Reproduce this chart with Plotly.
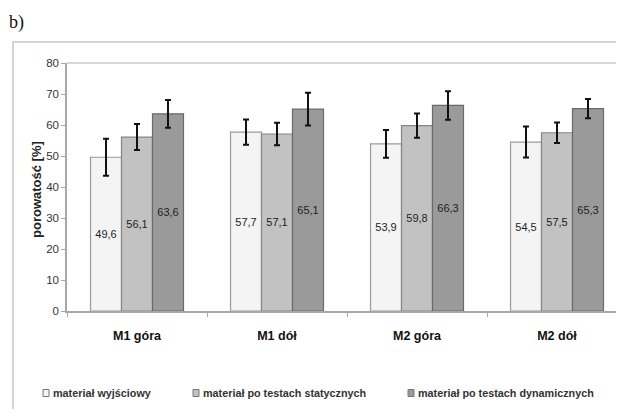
import plotly.graph_objects as go

categories = ["M1 góra", "M1 dół", "M2 góra", "M2 dół"]
series_names = ["materiał wyjściowy", "materiał po testach statycznych", "materiał po testach dynamicznych"]
val_wyjsciowy = [49.6, 57.7, 53.9, 54.5]
val_statyczne = [56.1, 57.1, 59.8, 57.5]
val_dynamiczne = [63.6, 65.1, 66.3, 65.3]
err_wyjsciowy = [6.0, 4.1, 4.5, 5.0]
err_statyczne = [4.2, 3.6, 3.9, 3.3]
err_dynamiczne = [4.5, 5.3, 4.6, 3.1]
y_ticks = [0, 10, 20, 30, 40, 50, 60, 70, 80]

fills = ["#f4f4f4", "#c2c2c2", "#9a9a9a"]
edges = ["#9a9a9a", "#858585", "#6a6a6a"]

# page has an 8px body margin; work in figure pixels = reference pixels - 8
OFF = 8
FW, FH = 624 - 2 * OFF, 417 - 2 * OFF
L, T, R, B = 67 - OFF, 63 - OFF, FW, 311 - OFF
W, H = R - L, B - T
CAT_W = 140.0  # pixel width of one category in the reference
def pxx(x): return (x - OFF - L) / W
def pyy(y): return (B - (y - OFF)) / H

fig = go.Figure()
for name, vals, errs, fc, ec in zip(series_names,
                                    [val_wyjsciowy, val_statyczne, val_dynamiczne],
                                    [err_wyjsciowy, err_statyczne, err_dynamiczne],
                                    fills, edges):
    fig.add_trace(go.Bar(
        x=categories, y=vals, name=name,
        marker=dict(color=fc, line=dict(color=ec, width=1.2)),
        error_y=dict(type="data", array=errs, visible=True, color="#111111",
                     thickness=2, width=3),
        texttemplate="%{y:.1f}", textposition="inside", insidetextanchor="middle",
        textangle=0,
        textfont=dict(family="Liberation Sans, Arial", size=11, color="#1e1e1e"),
        showlegend=False,
    ))

shapes = [
    # outer frame
    dict(type="rect", xref="paper", yref="paper", x0=pxx(13), x1=pxx(660),
         y0=pyy(460), y1=pyy(42), line=dict(color="#c8c8c8", width=1.5), layer="below"),
    # plot area top border
    dict(type="line", xref="paper", yref="paper", x0=0, x1=1, y0=1, y1=1,
         line=dict(color="#c8c8c8", width=1.5)),
]

annotations = [
    dict(text="b)", xref="paper", yref="paper", x=pxx(7), y=pyy(22), xanchor="left",
         yanchor="middle", showarrow=False,
         font=dict(family="Liberation Serif, Times New Roman", size=18, color="#111")),
    dict(text="<b>porowatość [%]</b>", xref="paper", yref="paper", x=pxx(36), y=pyy(190),
         xanchor="center", yanchor="middle", textangle=-90, showarrow=False,
         font=dict(family="Liberation Sans, Arial", size=13, color="#222")),
]

legend_sq_x = [43, 193, 408]
legend_y = 393
for name, fc, ec, sx in zip(series_names, fills, edges, legend_sq_x):
    shapes.append(dict(type="rect", xref="paper", yref="paper",
                       x0=pxx(sx), x1=pxx(sx + 6), y0=pyy(legend_y + 3.5), y1=pyy(legend_y - 3.5),
                       fillcolor=fc, line=dict(color="#777", width=1)))
    annotations.append(dict(text="<b>" + name + "</b>", xref="paper", yref="paper",
                            x=pxx(sx + 8), y=pyy(legend_y), xanchor="left", yanchor="middle",
                            showarrow=False,
                            font=dict(family="Liberation Sans, Arial", size=10.8, color="#333")))

fig.update_layout(
    width=FW, height=FH,
    margin=dict(l=L, r=FW - R, t=T, b=FH - B, pad=0),
    plot_bgcolor="white", paper_bgcolor="white",
    barmode="group", bargap=0.336, bargroupgap=0,
    separators=", ",
    shapes=shapes, annotations=annotations,
    showlegend=False,
    xaxis=dict(type="category", range=[-0.5, -0.5 + W / CAT_W], showline=True, linecolor="#a8a8a8",
               linewidth=1.5, ticks="outside", tickson="boundaries", ticklen=4,
               tickcolor="#a8a8a8", ticklabelstandoff=12, showgrid=False,
               tickfont=dict(family="Liberation Sans, Arial", size=12.5, color="#111", weight="bold")),
    yaxis=dict(range=[0, 80], tickvals=y_ticks, showline=True, linecolor="#a8a8a8",
               linewidth=1.5, ticks="outside", ticklen=4, tickcolor="#a8a8a8",
               showgrid=False, zeroline=False,
               tickfont=dict(family="Liberation Sans, Arial", size=11.5, color="#333")),
)

fig.write_html("out.html")
